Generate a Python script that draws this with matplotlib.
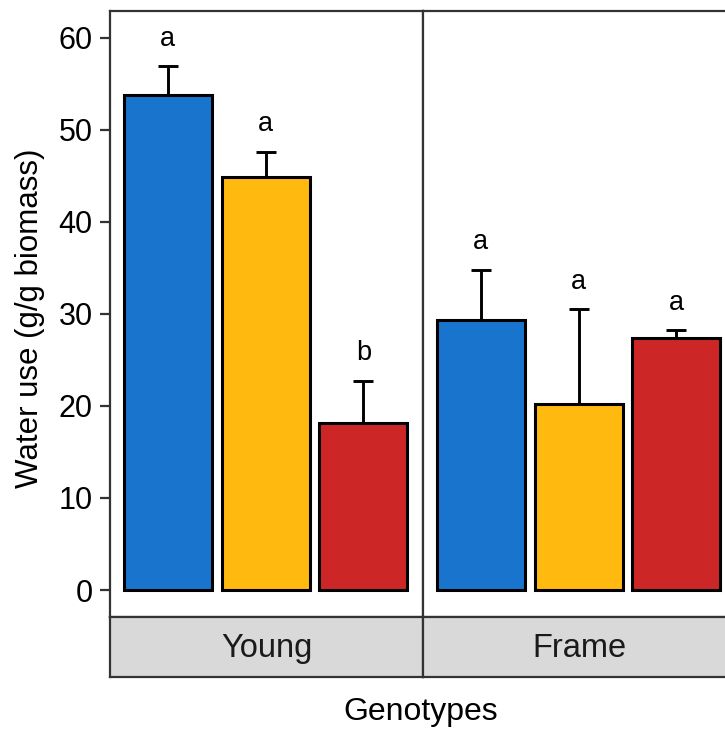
import matplotlib
matplotlib.use("Agg")
import matplotlib.pyplot as plt
import numpy as np

plt.rcParams['font.family'] = ['Liberation Sans', 'DejaVu Sans']

# water use per genotype, three treatments each (mean and standard error)
groups = ["Young", "Frame"]
fill_colors = ["#1874CD", "#FFB90F", "#CD2626"]
young_mean = [53.8, 44.9, 18.1]
young_se = [3.1, 2.7, 4.6]
frame_mean = [29.3, 20.2, 27.4]
frame_se = [5.5, 10.3, 0.8]
young_letters = ["a", "a", "b"]
frame_letters = ["a", "a", "a"]
yticks = [0, 10, 20, 30, 40, 50, 60]

W, H = 725, 731
fig = plt.figure(figsize=(W / 100, H / 100), dpi=100)

panel_w = 313 / W
panel_b = (H - 617) / H
panel_h = 606 / H
strip_b = (H - 677) / H
strip_h = 60 / H
lefts = [110 / W, 423 / W]

edge_gray = "#333333"
data = [(young_mean, young_se, young_letters), (frame_mean, frame_se, frame_letters)]

for k, (name, (means, ses, letters)) in enumerate(zip(groups, data)):
    ax = fig.add_axes([lefts[k], panel_b, panel_w, panel_h])
    x = np.arange(len(means))
    means = np.array(means)
    ses = np.array(ses)
    ax.errorbar(x, means, yerr=[np.zeros_like(ses), ses], fmt='none',
                ecolor='black', elinewidth=2.1, capsize=7, capthick=2.1, zorder=2)
    ax.bar(x, means, width=0.9, color=fill_colors, edgecolor='black',
           linewidth=2.2, zorder=3)
    for xi, top, lab in zip(x, means + ses, letters):
        ax.text(xi, top + 3, lab, ha='center', va='center', fontsize=19.5, color='black')
    ax.set_xlim(-0.59, 2.61)
    ax.set_ylim(-2.93, 62.9)
    ax.set_xticks([])
    for sp in ax.spines.values():
        sp.set_color(edge_gray)
        sp.set_linewidth(1.6)
    if k == 0:
        ax.set_yticks(yticks)
        ax.tick_params(axis='y', length=7.5, width=1.6, color=edge_gray,
                       labelsize=22, labelcolor='black', pad=5)
    else:
        ax.set_yticks([])

    # facet strip under each panel
    sax = fig.add_axes([lefts[k], strip_b, panel_w, strip_h])
    sax.set_facecolor("#D9D9D9")
    sax.set_xticks([])
    sax.set_yticks([])
    for sp in sax.spines.values():
        sp.set_color(edge_gray)
        sp.set_linewidth(1.6)
    sax.text(0.5, 0.47, name, ha='center', va='center', fontsize=23.5,
             color='#1A1A1A', transform=sax.transAxes)

fig.text(30 / W, 1 - 318 / H, "Water use (g/g biomass)", rotation=90,
         ha='center', va='center', fontsize=22.5)
fig.text(421 / W, 1 - 712 / H, "Genotypes", ha='center', va='center',
         fontsize=23)

fig.savefig("out.png", dpi=100)
